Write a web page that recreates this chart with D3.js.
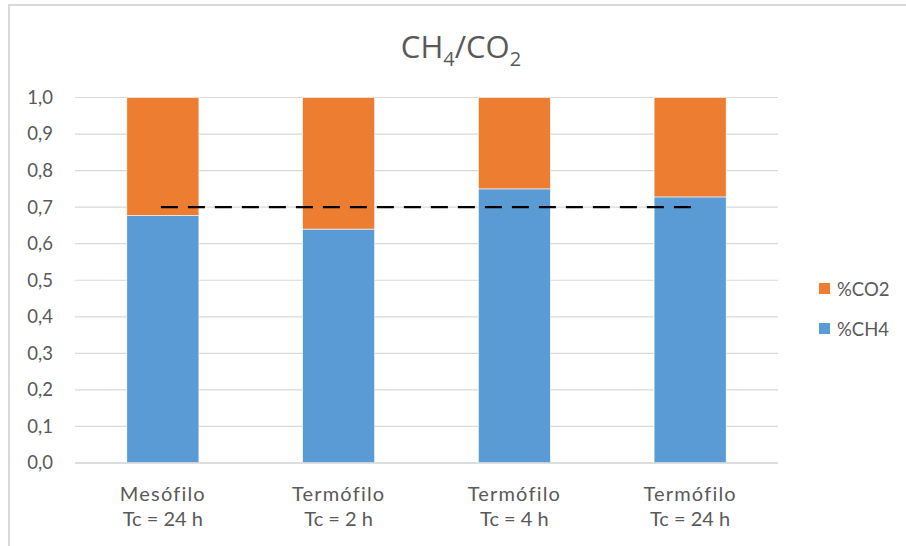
<!DOCTYPE html>
<html>
<head>
<meta charset="utf-8">
<script src="https://cdn.jsdelivr.net/npm/d3@7"></script>
<style>
  html, body { margin: 0; padding: 0; background: #fff; }
  svg { display: block; font-family: Lato, "Open Sans", sans-serif; }
</style>
</head>
<body>
<svg id="chart" width="906" height="546"></svg>
<script>
// ---- data ----
const categories = [["Mesófilo", "Tc = 24 h"], ["Termófilo", "Tc = 2 h"], ["Termófilo", "Tc = 4 h"], ["Termófilo", "Tc = 24 h"]];
const ch4 = [0.677, 0.640, 0.750, 0.728];
const co2 = [0.323, 0.360, 0.250, 0.272];
const seriesNames = ["%CH4", "%CO2"];
const yTicks = [0, 0.1, 0.2, 0.3, 0.4, 0.5, 0.6, 0.7, 0.8, 0.9, 1.0];
const refLine = 0.7;

const colors = { "%CH4": "#5B9BD5", "%CO2": "#ED7D31" };

const svg = d3.select("#chart");
const W = 906, H = 546;
const m = { left: 75, right: 128, top: 97.5, bottom: 83 };

// frame
svg.append("path")
  .attr("d", `M9,${H + 2} L9,5 L${W + 2},5`)
  .attr("fill", "none").attr("stroke", "#d9d9d9").attr("stroke-width", 2);

const x = d3.scaleBand().domain(d3.range(categories.length))
  .range([m.left, W - m.right]).paddingInner(0.59).paddingOuter(0.295);
const y = d3.scaleLinear().domain([0, 1]).range([H - m.bottom, m.top]);

// gridlines
svg.append("g").selectAll("line").data(yTicks).join("line")
  .attr("x1", m.left).attr("x2", W - m.right)
  .attr("y1", d => y(d)).attr("y2", d => y(d))
  .attr("stroke", "#d9d9d9").attr("stroke-width", 1.2);

// y axis labels
const yAxis = d3.axisLeft(y).tickValues(yTicks)
  .tickFormat(d => d3.format(".1f")(d).replace(".", ",")).tickSize(0).tickPadding(22);
const gy = svg.append("g").attr("transform", `translate(${m.left},0)`).call(yAxis);
gy.select(".domain").remove();
gy.selectAll("text").attr("fill", "#595959").style("font-size", "18.5px").style("font-family", "Lato, sans-serif");

// stacked data
const rows = categories.map((c, i) => ({ i, "%CH4": ch4[i], "%CO2": co2[i] }));
const stack = d3.stack().keys(seriesNames)(rows);

svg.append("g").selectAll("g").data(stack).join("g")
  .attr("fill", s => colors[s.key])
  .selectAll("rect").data(s => s).join("rect")
  .attr("x", d => x(d.data.i))
  .attr("width", x.bandwidth())
  .attr("y", d => y(d[1]))
  .attr("height", d => y(d[0]) - y(d[1]))
  .attr("stroke", "#fff").attr("stroke-width", 0.6);

// axis baseline
svg.append("line")
  .attr("x1", m.left).attr("x2", W - m.right)
  .attr("y1", y(0)).attr("y2", y(0))
  .attr("stroke", "#d9d9d9").attr("stroke-width", 1.5);

// reference dashed line
const cx = i => x(i) + x.bandwidth() / 2;
svg.append("line")
  .attr("x1", cx(0) - 2).attr("x2", cx(categories.length - 1) + 2)
  .attr("y1", y(refLine)).attr("y2", y(refLine))
  .attr("stroke", "#000").attr("stroke-width", 2.2)
  .attr("stroke-dasharray", "17,10");

// x labels
const xl = svg.append("g").selectAll("text").data(categories).join("text")
  .attr("x", (d, i) => cx(i))
  .attr("text-anchor", "middle")
  .attr("fill", "#595959").style("font-size", "20px");
xl.append("tspan").attr("x", (d, i) => cx(i)).attr("y", 501).style("letter-spacing", "1.2px").text(d => d[0]);
xl.append("tspan").attr("x", (d, i) => cx(i)).attr("y", 526).text(d => d[1]);

// title
const t = svg.append("text").attr("x", 461).attr("y", 58)
  .attr("text-anchor", "middle").attr("fill", "#595959")
  .style("font-size", "31px").style("font-family", "'Liberation Sans Narrow', 'Open Sans', sans-serif");
t.append("tspan").text("CH");
t.append("tspan").attr("dy", 8).style("font-size", "20px").text("4");
t.append("tspan").attr("dy", -8).text("/CO");
t.append("tspan").attr("dy", 8).style("font-size", "20px").text("2");

// legend
const legendItems = ["%CO2", "%CH4"];
const lg = svg.append("g").selectAll("g").data(legendItems).join("g")
  .attr("transform", (d, i) => `translate(819,${283 + i * 40})`);
lg.append("rect").attr("width", 11).attr("height", 11).attr("fill", d => colors[d]);
lg.append("text").attr("x", 18).attr("y", 13).attr("fill", "#595959")
  .style("font-size", "18.5px").text(d => d);
</script>
</body>
</html>
